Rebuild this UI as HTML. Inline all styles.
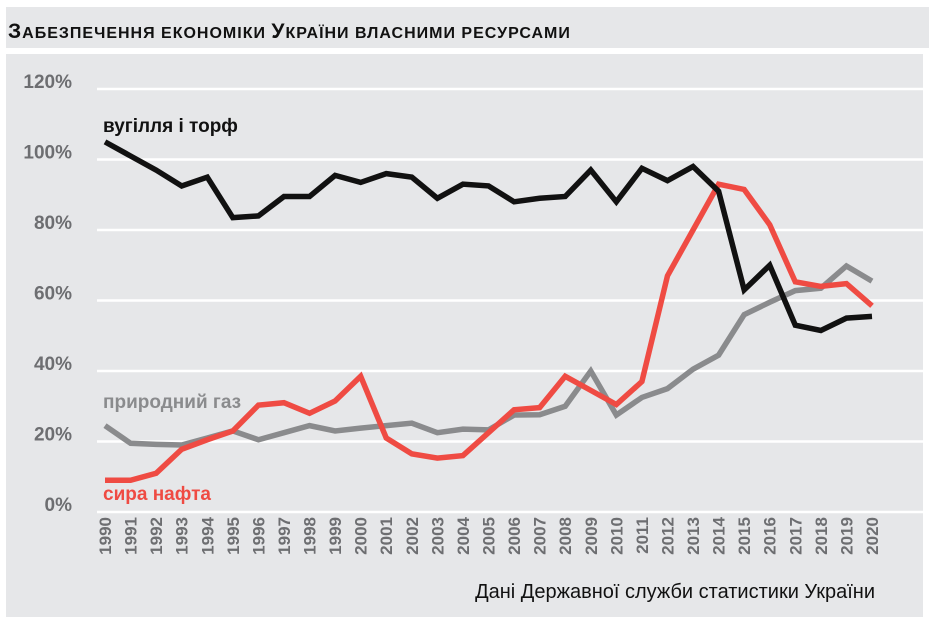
<!DOCTYPE html>
<html><head><meta charset="utf-8"><style>
body{margin:0;width:929px;height:624px;background:#fff;overflow:hidden;font-family:"Liberation Sans","DejaVu Sans",sans-serif}
#title{position:absolute;left:6px;top:7px;width:923px;height:41px;background:#e6e7e9}
#title span{position:absolute;left:2px;top:13px;font-weight:bold;font-size:16px;color:#111;text-transform:uppercase;letter-spacing:1px;white-space:nowrap}
#title span b{font-size:21px}
#panel{position:absolute;left:6px;top:54px;width:917px;height:563px;background:#e6e7e9}
svg{position:absolute;left:0;top:0}
</style></head><body>
<div id="title"><span><b>З</b>абезпечення економіки <b>У</b>країни власними ресурсами</span></div>
<div id="panel"></div>
<svg id="chart" width="929" height="624"></svg>
<script>
const years=[1990,1991,1992,1993,1994,1995,1996,1997,1998,1999,2000,2001,2002,2003,2004,2005,2006,2007,2008,2009,2010,2011,2012,2013,2014,2015,2016,2017,2018,2019,2020];
const coal=[105,101,97,92.5,95,83.5,84,89.5,89.5,95.5,93.5,96,95,89,93,92.5,88,89,89.5,97,88,97.5,94,98,91,63,70,53,51.5,55,55.5];
const gas=[24.5,19.5,19.2,19,21,23,20.5,22.5,24.5,23,23.8,24.5,25.2,22.5,23.5,23.3,27.5,27.6,30,40,27.5,32.5,35,40.5,44.5,56,59.5,62.8,63.5,69.8,65.5];
const oil=[9,9,11,17.8,20.5,23,30.3,31,28,31.5,38.5,21,16.5,15.3,16,22.5,29,29.6,38.5,34.5,30.5,37,67,80,93,91.5,81.5,65.3,64,64.8,58.5];
const yTicks=[0,20,40,60,80,100,120];
const svg=document.getElementById('chart');const NS='http://www.w3.org/2000/svg';
const x=i=>105+i*(872-105)/(years.length-1);
const y=v=>512-v*(512-89)/120;
function mk(t,a){const e=document.createElementNS(NS,t);for(const k in a)e.setAttribute(k,a[k]);svg.appendChild(e);return e;}
yTicks.forEach(t=>{
 const l=mk('line',{x1:97,x2:923,y1:y(t),y2:y(t),stroke:'#fff','stroke-width':2.5});
 
 
 const tx=mk('text',{x:72,y:y(t)-1,'text-anchor':'end','font-size':19,'font-weight':'bold',fill:'#6d6e71','font-family':'Liberation Sans, sans-serif'});
 tx.textContent=t+'%';
 
 
});
years.forEach((yr,i)=>{
 const tx=mk('text',{x:0,y:0,'text-anchor':'end','font-size':17,'font-weight':'bold',fill:'#6d6e71',transform:`translate(${x(i)+6},517) rotate(-90)`,'font-family':'Liberation Sans, sans-serif'});
 tx.textContent=yr;
 
 
});
function series(d,c,name){
 const p=mk('polyline',{points:d.map((v,i)=>x(i)+','+y(v)).join(' '),fill:'none',stroke:c,'stroke-width':5.5,'stroke-linejoin':'miter'});
 
 
}
series(gas,'#8a8b8d','gas-line');
series(oil,'#ef4b43','oil-line');
series(coal,'#111','coal-line');
function lab(t,xx,yy,c,name){const e=mk('text',{x:xx,y:yy,'font-size':19,'font-weight':'bold',fill:c,'font-family':'Liberation Sans, sans-serif'});e.textContent=t;
 
 }
lab('вугілля і торф',103,132,'#111','coal-label');
lab('природний газ',103,408,'#8a8b8d','gas-label');
lab('сира нафта',103,500,'#ef4b43','oil-label');
const s=mk('text',{x:875,y:598,'text-anchor':'end','font-size':20,fill:'#111','font-family':'Liberation Sans, sans-serif'});
s.textContent='Дані Державної служби статистики України';


</script>
</body></html>
